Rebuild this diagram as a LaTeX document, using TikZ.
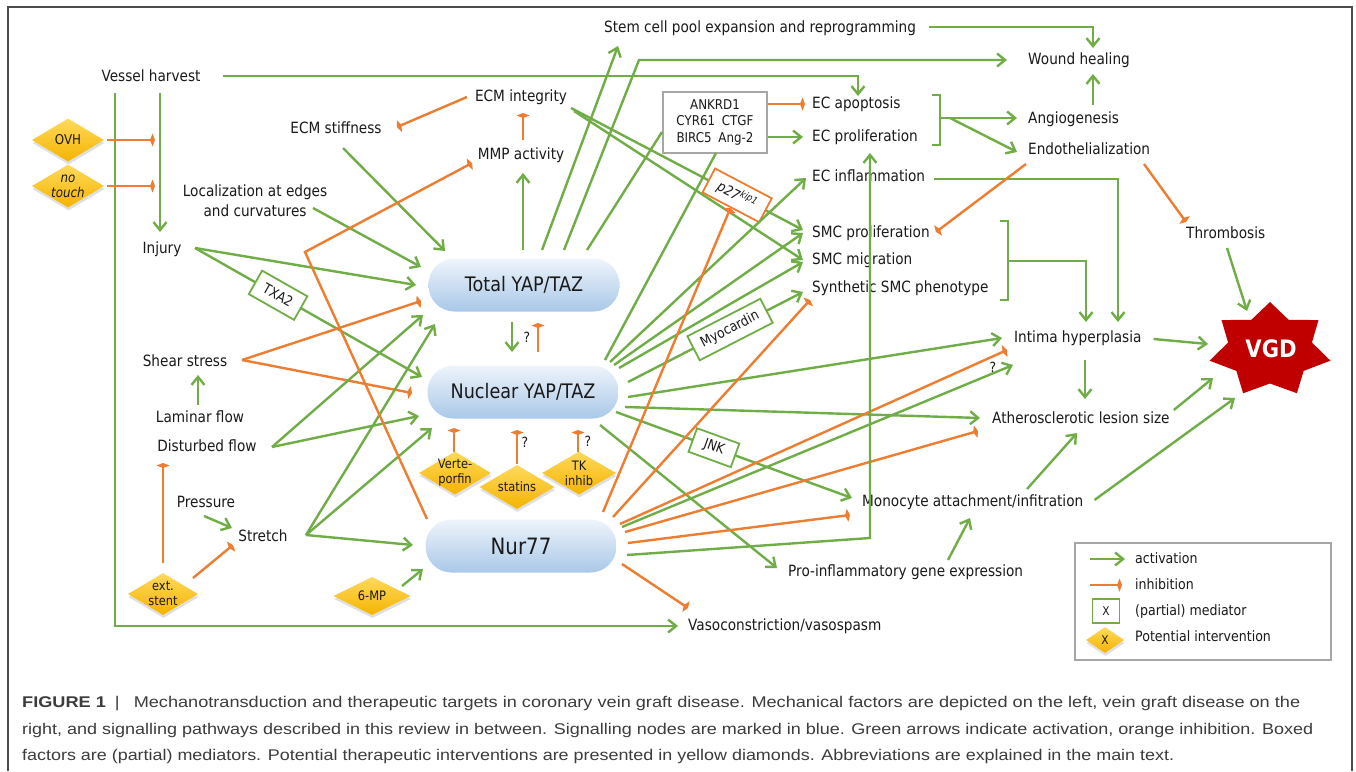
\documentclass[tikz,border=0pt]{standalone}
\usepackage{fontspec}
\setmainfont{DejaVu Sans}[FakeStretch=0.88]
\newfontfamily\capfont{Liberation Sans}
\usetikzlibrary{arrows.meta,shapes.geometric,shadows,calc}
\definecolor{grn}{HTML}{70AD47}
\definecolor{org}{HTML}{ED7D31}
\definecolor{gldtop}{HTML}{FFD95C}
\definecolor{gldbot}{HTML}{F4B400}
\definecolor{bltop}{HTML}{EEF4FB}
\definecolor{blbot}{HTML}{A9C8E8}
\definecolor{vgdred}{HTML}{C00000}
\definecolor{capgray}{HTML}{3C3C3C}
\definecolor{boxgray}{HTML}{A6A6A6}
\definecolor{txt}{HTML}{1A1A1A}
\begin{document}
\begin{tikzpicture}[x=1pt,y=-1pt,
 lbl/.style={inner sep=0pt, text height=12pt, text depth=3.5pt, text=txt, font=\fontsize{15.5}{18}\selectfont},
 lblw/.style={lbl, anchor=west},
 legt/.style={anchor=west, inner sep=0pt, text height=11pt, text depth=3pt, text=txt, font=\fontsize{14.3}{17}\selectfont},
 act/.style={draw=grn, line width=2.4pt, -{Straight Barb[length=8pt,width=13pt]}},
 inh/.style={draw=org, line width=2.4pt, -{Kite[length=5pt,width=13pt,inset=2.5pt]}},
 gl/.style={draw=grn, line width=2.4pt},
 blue/.style={rectangle, rounded corners=26pt, minimum width=191pt, minimum height=53pt, top color=bltop, bottom color=blbot, inner sep=0pt, text=txt},
 dia/.style={diamond, inner sep=0pt, minimum width=72pt, minimum height=43pt, top color=gldtop, bottom color=gldbot, drop shadow={shadow xshift=0.5pt, shadow yshift=-3pt, opacity=0.25}},
 dtxt/.style={align=center, inner sep=0pt, text=txt, font=\fontsize{13}{15}\selectfont},
 med/.style={draw=grn, line width=1.8pt, fill=white, inner sep=2pt, text=txt, font=\fontsize{14}{15}\selectfont},
 medo/.style={med, draw=org},
 qm/.style={inner sep=0pt, text=txt, font=\fontsize{14}{16}\selectfont},
 captxt/.style={anchor=west, inner sep=0pt, text=capgray, font=\capfont\fontsize{15.5}{18}\selectfont},
]
\useasboundingbox (0,0) rectangle (1356,771);
\fill[white] (0,0) rectangle (1356,771);
\draw[line width=1.5pt, gray!60!black] (8,771) -- (8,7) -- (1352,7) -- (1352,771);

% ---------- nodes ----------
\node[lbl] (vh) at (151,77) {Vessel harvest};
\node[dia] (ovh) at (68,140) {};
\node[dtxt, font=\fontsize{13.5}{15}\selectfont] (ovhT) at (ovh) {OVH};
\node[dia] (nt) at (68,186) {};
\node[dtxt, font=\fontsize{13.5}{15}\selectfont\itshape] (ntT) at (nt) {no\\touch};
\node[lbl] (inj) at (162,249) {Injury};
\node[lbl] (ecms) at (336,129) {ECM stiffness};
\node[inner sep=0pt, align=center, text=txt, font=\fontsize{15.5}{20}\selectfont] (loc) at (255,201) {Localization at edges\\and curvatures};
\node[lbl] (shear) at (185,362) {Shear stress};
\node[lbl] (lam) at (200,418) {Laminar flow};
\node[lbl] (dist) at (207,447) {Disturbed flow};
\node[lbl] (pres) at (206,503) {Pressure};
\node[lbl] (str) at (263,537) {Stretch};
\node[dia, minimum width=70pt, minimum height=42pt] (ext) at (163,594) {};
\node[dtxt] (extT) at (ext) {ext.\\stent};
\node[dia, minimum width=77pt, minimum height=38pt] (mp) at (372,596) {};
\node[dtxt] (mpT) at (mp) {6-MP};

\node[blue, font=\fontsize{20}{22}\selectfont] (tot) at (524,285) {Total YAP/TAZ};
\node[blue, font=\fontsize{20}{22}\selectfont] (nuc) at (523,392) {Nuclear YAP/TAZ};
\node[blue, font=\fontsize{22.5}{24}\selectfont] (nur) at (521,546) {Nur77};

\node[dia] (vert) at (455,473) {};
\node[dtxt] (vertT) at (vert) {Verte-\\porfin};
\node[dia, minimum width=75pt, minimum height=44pt] (stat) at (517,487) {};
\node[dtxt] (statT) at (stat) {statins};
\node[dia, minimum width=74pt] (tk) at (579,473) {};
\node[dtxt] (tkT) at (tk) {TK\\inhib};

\node[lbl] (ecmi) at (521,97) {ECM integrity};
\node[lbl] (mmp) at (521,155) {MMP activity};
\node[lbl] (stem) at (760,28) {Stem cell pool expansion and reprogramming};
\node[draw=boxgray, line width=2pt, fill=white, minimum width=104pt, minimum height=61pt, inner sep=0pt, align=center, text=txt, font=\fontsize{13.5}{16.5}\selectfont] (ank) at (715,122) {ANKRD1\\CYR61\enspace CTGF\\BIRC5\enspace Ang-2};

\node[lblw] (wound) at (1028,60) {Wound healing};
\node[lblw] (ecapo) at (812,104) {EC apoptosis};
\node[lblw] (ecpro) at (812,137) {EC proliferation};
\node[lblw] (ecinf) at (812,177) {EC inflammation};
\node[lblw] (smcp) at (812,233) {SMC proliferation};
\node[lblw] (smcm) at (812,260) {SMC migration};
\node[lblw] (syn) at (812,288) {Synthetic SMC phenotype};
\node[lblw] (angio) at (1028,119) {Angiogenesis};
\node[lblw] (endo) at (1028,150) {Endothelialization};
\node[lblw] (thromb) at (1186,234) {Thrombosis};
\node[lblw] (intima) at (1014,338) {Intima hyperplasia};
\node[lblw] (athero) at (992,419) {Atherosclerotic lesion size};
\node[lblw] (mono) at (862,502) {Monocyte attachment/infitration};
\node[lblw] (proinf) at (788,572) {Pro-inflammatory gene expression};
\node[lblw] (vaso) at (688,626) {Vasoconstriction/vasospasm};

% VGD star
\coordinate (vgdc) at (1270,350);
\fill[vgdred] ($(vgdc)+(270:62 and 48)$)
  \foreach \k in {0,...,6}{ -- ($(vgdc)+(270+\k*51.4286:62 and 48)$) -- ($(vgdc)+(270+\k*51.4286+25.7143:43 and 33.5)$) } -- cycle;
\node[inner sep=0pt, text=white, font=\fontsize{24}{26}\selectfont\bfseries] (vgd) at (1271,349) {VGD};

% ---------- connectors ----------
% vessel harvest
\draw[act] ([shift={(9,16)}]vh.center) -- ([shift={(-2,-17)}]inj.center);
\draw[act] ([shift={(-36,16)}]vh.center) |- ([shift={(-10,0)}]vaso.west);
\draw[act] ([shift={(22,-1)}]vh.east) -| ([shift={(46,-8)}]ecapo.west);
\draw[inh] ([xshift=3pt]ovh.east) -- ([shift={(-7,-109)}]inj.center);
\draw[inh] ([xshift=3pt]nt.east) -- ([shift={(-7,-63)}]inj.center);
\draw[inh] ([shift={(0,-31)}]ext.center) -- ([shift={(-44,16)}]dist.center);
\draw[inh] ([shift={(30,-16)}]ext.center) -- ([shift={(-30,8)}]str.center);

% left factors to YAP/TAZ and Nur77
\draw[act] ([shift={(7,19)}]ecms.center) -- ([shift={(-79,-34)}]tot.center);
\draw[act] ([shift={(58,7)}]loc.center) -- ([shift={(-103,-18)}]tot.center);
\draw[act] ([shift={(33,-1)}]inj.center) -- ([shift={(-108,0)}]tot.center);
\draw[act] ([shift={(33,-1)}]inj.center) -- node[med, pos=0.366, sloped, minimum width=52pt, minimum height=27pt] (txa) {TXA2} ([shift={(-101,-15)}]nuc.center);
\draw[act] ([shift={(-2,-13)}]lam.center) -- ([shift={(13,13)}]shear.center);
\draw[inh] ([shift={(57,-2)}]shear.center) -- ([shift={(-103,16)}]tot.center);
\draw[inh] ([shift={(57,-2)}]shear.center) -- ([shift={(-111,1)}]nuc.center);
\draw[act] ([shift={(65,0)}]dist.center) -- ([shift={(-101,30)}]tot.center);
\draw[act] ([shift={(65,0)}]dist.center) -- ([shift={(-104,24)}]nuc.center);
\draw[act] ([shift={(-2,13)}]pres.center) -- ([shift={(-31,-9)}]str.center);
\draw[act] ([shift={(43,-2)}]str.center) -- ([shift={(-89,39)}]tot.center);
\draw[act] ([shift={(43,-2)}]str.center) -- ([shift={(-91,36)}]nuc.center);
\draw[act] ([shift={(43,-2)}]str.center) -- ([shift={(-108,-1)}]nur.center);
\draw[act] ([shift={(30,-10)}]mp.center) -- ([shift={(-98,23)}]nur.center);

% between YAP nodes and drugs
\draw[act] ([shift={(-12,37)}]tot.center) -- ([shift={(-11,-40)}]nuc.center);
\draw[inh] ([shift={(15,-40)}]nuc.center) -- ([shift={(14,38)}]tot.center);
\node[qm] (q1) at (527,337) {?};
\draw[inh] ([shift={(-1,-21)}]vert.center) -- ([shift={(-69,36)}]nuc.center);
\draw[inh] ([shift={(0,-23)}]stat.center) -- ([shift={(-6,38)}]nuc.center);
\draw[inh] ([shift={(-1,-21)}]tk.center) -- ([shift={(55,38)}]nuc.center);
\node[qm] (q2) at (525,442) {?};
\node[qm] (q3) at (588,441) {?};

% ECM / MMP
\draw[inh] ([shift={(-94,-27)}]nur.center) -- ++(-122,-267) -- ([shift={(-49,8)}]mmp.center);
\draw[inh] ([shift={(2,-15)}]mmp.center) -- ([shift={(2,16)}]ecmi.center);
\draw[inh] ([shift={(-54,0)}]ecmi.center) -- ([shift={(61,-2)}]ecms.center);
\draw[act] ([shift={(-1,-35)}]tot.center) -- ([shift={(2,18)}]mmp.center);

% Total YAP/TAZ upward
\draw[act] ([shift={(18,-35)}]tot.center) -- ([shift={(-142,18)}]stem.center);
\draw[act] ([shift={(40,-35)}]tot.center) -- ++(75,-190) -- ([shift={(-21,0)}]wound.west);
\draw[gl] ([shift={(63,-35)}]tot.center) -- ([shift={(-53,10)}]ank.center);
\draw[act] ([shift={(13,-1)}]stem.east) -| ([shift={(65,-12)}]wound.west);
\draw[act] ([shift={(65,-14)}]angio.west) -- ([shift={(65,14)}]wound.west);

% ECM integrity to SMC
\draw[act] ([shift={(53,14)}]ecmi.center) -- ([shift={(-9,0)}]smcm.west);
\draw[act] ([shift={(50,11)}]ecmi.center) -- node[medo, pos=0.716, sloped, minimum width=64pt, minimum height=27pt] (p27) {\textit{p27}\textsuperscript{\textit{kip1}}} ([shift={(-9,-3)}]smcp.west);

% mediator box
\draw[inh] ([shift={(53,-18)}]ank.center) -- ([shift={(-7,0)}]ecapo.west);
\draw[act] ([shift={(53,15)}]ank.center) -- ([shift={(-9,0)}]ecpro.west);

% brackets
\coordinate (brA) at (940,118);
\draw[gl] ([shift={(-8,-23)}]brA) -- ++(8,0) -- ++(0,50) -- ++(-8,0);
\draw[act] (brA) -- ([shift={(-11,-1)}]angio.west);
\draw[act] ([shift={(10,0)}]brA) -- ([shift={(-11,2)}]endo.west);
\coordinate (brB) at (1008,261);
\draw[gl] ([shift={(-8,-40)}]brB) -- ++(8,0) -- ++(0,79) -- ++(-8,0);
\draw[act] (brB) -| ([shift={(72,-16)}]intima.west);
\draw[act] ([shift={(9,2)}]ecinf.east) -| ([shift={(104,-16)}]intima.west);

% endothelialization, thrombosis, VGD
\draw[inh] ([shift={(-2,14)}]endo.west) -- ([shift={(124,-1)}]smcp.west);
\draw[inh] ([shift={(116,14)}]endo.west) -- ([shift={(0,-12)}]thromb.west);
\draw[act] ([shift={(41,14)}]thromb.west) -- ([shift={(-23,-39)}]vgdc);
\draw[act] ([shift={(12,1)}]intima.east) -- ([shift={(-62,-6)}]vgdc);
\draw[act] ([shift={(71,22)}]intima.west) -- ([shift={(93,-20)}]athero.west);
\draw[act] ([shift={(4,-9)}]athero.east) -- ([shift={(-57,28)}]vgdc);
\draw[act] ([shift={(165,-13)}]mono.west) -- ([shift={(85,14)}]athero.west);
\draw[act] ([shift={(11,-2)}]mono.east) -- ([shift={(-35,48)}]vgdc);
\draw[act] ([shift={(160,-12)}]proinf.west) -- ([shift={(108,16)}]mono.west);

% Nuclear YAP/TAZ outputs
\draw[gl] ([shift={(82,-32)}]nuc.center) -- ([shift={(1,31)}]ank.center);
\draw[act] ([shift={(87,-30)}]nuc.center) -- ([shift={(-6,1)}]ecinf.west);
\draw[act] ([shift={(91,-27)}]nuc.center) -- ([shift={(-9,0)}]smcp.west);
\draw[act] ([shift={(96,-24)}]nuc.center) -- ([shift={(-9,2)}]smcm.west);
\draw[act] ([shift={(105,-10)}]nuc.center) -- node[med, pos=0.583, sloped, minimum width=82pt, minimum height=27pt] (myo) {Myocardin} ([shift={(-9,4)}]syn.west);
\draw[act] ([shift={(105,5)}]nuc.center) -- ([shift={(-12,0)}]intima.west);
\draw[act] ([shift={(102,15)}]nuc.center) -- ([shift={(-12,-1)}]athero.west);
\draw[act] ([shift={(93,20)}]nuc.center) -- node[med, pos=0.415, sloped, minimum width=45pt, minimum height=25pt] (jnk) {JNK} ([shift={(-10,-4)}]mono.west);
\draw[act] ([shift={(77,33)}]nuc.center) -- ([shift={(-11,-4)}]proinf.west);

% Nur77 outputs
\draw[inh] ([shift={(82,-34)}]nur.center) -- (p27.south);
\draw[inh] ([shift={(92,-29)}]nur.center) -- ([shift={(-2,12)}]syn.west);
\draw[inh] ([shift={(99,-22)}]nur.center) -- ([shift={(-7,12)}]intima.west);
\draw[act] ([shift={(101,-19)}]nur.center) -- ([shift={(-1,27)}]intima.west);
\node[qm] (q4) at (993,367) {?};
\draw[inh] ([shift={(104,-14)}]nur.center) -- ([shift={(-14,12)}]athero.west);
\draw[inh] ([shift={(107,-3)}]nur.center) -- ([shift={(-12,13)}]mono.west);
\draw[act] ([shift={(106,9)}]nur.center) -- ++(243,-17) -- ([shift={(58,16)}]ecpro.west);
\draw[inh] ([shift={(101,18)}]nur.center) -- ([shift={(0,-18)}]vaso.west);

% ---------- legend ----------
\node[draw=boxgray, line width=2.5pt, minimum width=256pt, minimum height=117pt, inner sep=0pt] (leg) at (1203,601.5) {};
\node[legt] (la) at (1135,559) {activation};
\node[legt] (li) at (1135,585) {inhibition};
\node[legt] (lm) at (1135,611) {(partial) mediator};
\node[legt] (lp) at (1135,637) {Potential intervention};
\draw[act] ([xshift=-45pt]la.west) -- ([xshift=-10pt]la.west);
\draw[inh] ([xshift=-45pt]li.west) -- ([xshift=-13pt]li.west);
\node[med, minimum width=27pt, minimum height=24pt, inner sep=0pt, font=\fontsize{12}{13}\selectfont] (lmx) at ([xshift=-29pt]lm.west) {X};
\node[dia, minimum width=38pt, minimum height=26pt] (lpx) at ([shift={(-30,3)}]lp.west) {};
\node[dtxt, font=\fontsize{12}{13}\selectfont] (lpxT) at (lpx) {X};

% ---------- caption ----------
\node[captxt] (cap1) at (22,704) {\resizebox{1278pt}{\height}{\textbf{FIGURE 1}\enspace|\enspace\ Mechanotransduction and therapeutic targets in coronary vein graft disease. Mechanical factors are depicted on the left, vein graft disease on the}};
\node[captxt] (cap2) at (22,730) {\resizebox{1291pt}{\height}{right, and signalling pathways described in this review in between. Signalling nodes are marked in blue. Green arrows indicate activation, orange inhibition. Boxed}};
\node[captxt] (cap3) at (22,756) {\resizebox{1152pt}{\height}{factors are (partial) mediators. Potential therapeutic interventions are presented in yellow diamonds. Abbreviations are explained in the main text.}};
\end{tikzpicture}
\end{document}
